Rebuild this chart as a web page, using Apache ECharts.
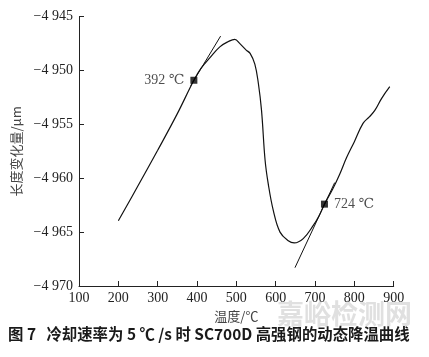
<!DOCTYPE html>
<html><head><meta charset="utf-8">
<script src="https://cdn.jsdelivr.net/npm/echarts@6/dist/echarts.min.js"></script>
<style>html,body{margin:0;padding:0;background:#fff}#c{width:429px;height:357px}</style>
</head><body><div id="c"></div>
<script>
const curveX = [200,250,300,350,392,410,433,458,480,496,509,525,535,547,556,564,573,581,594,611,632,647,670,696,710,724,745,763,780,800,822,838,852,869,890];
const curveY = [-4963.95,-4960.7,-4957.4,-4954.0,-4950.9,-4949.8,-4948.8,-4947.8,-4947.3,-4947.1,-4947.5,-4948.1,-4948.4,-4949.4,-4951.2,-4953.7,-4958.3,-4960.5,-4963.0,-4965.0,-4965.8,-4966.0,-4965.6,-4964.35,-4963.5,-4962.4,-4961.0,-4959.6,-4958.1,-4956.6,-4954.9,-4954.3,-4953.7,-4952.6,-4951.5];
const tangent1X = [384,460];
const tangent1Y = [-4951.4,-4946.8];
const tangent2X = [649,750];
const tangent2Y = [-4968.3,-4960.4];
const pointX = [392,724];
const pointY = [-4950.9,-4962.4];
const pointLabels = ['392 ℃','724 ℃'];
const xTicks = {min:100,max:900,step:100};
const yTicks = {min:-4970,max:-4945,step:5};
const xName = '温度/℃';
const yName = '长度变化量/μm';
const caption = '图 7   冷却速率为 5 ℃ /s 时 SC700D 高强钢的动态降温曲线';
const watermark = '嘉峪检测网';

const zip = (a,b)=>a.map((v,i)=>[v,b[i]]);
const fmtY = v => { const s = String(Math.abs(v)); return '\u2212' + s.slice(0,1) + ' ' + s.slice(1); };
const serif = '"Liberation Serif","DejaVu Serif",serif';
const chart = echarts.init(document.getElementById('c'));
chart.setOption({
  animation:false,
  grid:{left:79,right:35.3,top:16.7,bottom:71},
  xAxis:{type:'value',min:xTicks.min,max:xTicks.max,interval:xTicks.step,
    name:xName,nameLocation:'middle',nameGap:23,
    nameTextStyle:{fontFamily:'"Noto Sans CJK SC",sans-serif',fontSize:13,color:'#444'},
    axisLine:{lineStyle:{color:'#222',width:1}},
    axisTick:{inside:true,length:5,lineStyle:{color:'#222'}},
    axisLabel:{fontFamily:serif,fontSize:14,color:'#222',margin:5},
    splitLine:{show:false}},
  yAxis:{type:'value',min:yTicks.min,max:yTicks.max,interval:yTicks.step,
    name:yName,nameLocation:'middle',nameGap:52,nameRotate:90,
    nameTextStyle:{fontFamily:'"Noto Sans CJK SC",sans-serif',fontSize:13,color:'#444'},
    axisLine:{lineStyle:{color:'#222',width:1}},
    axisTick:{inside:true,length:5,lineStyle:{color:'#222'}},
    axisLabel:{fontFamily:serif,fontSize:14,color:'#222',margin:6,formatter:fmtY},
    splitLine:{show:false}},
  series:[
    {type:'line',data:zip(curveX,curveY),smooth:0.4,showSymbol:false,lineStyle:{color:'#111',width:1.2},z:2},
    {type:'line',data:zip(tangent1X,tangent1Y),showSymbol:false,lineStyle:{color:'#111',width:1},z:2},
    {type:'line',data:zip(tangent2X,tangent2Y),showSymbol:false,lineStyle:{color:'#111',width:1},z:2},
    {type:'scatter',data:zip(pointX,pointY).map((p,i)=>({value:p,label:{show:true,position:i===0?'left':'right',distance:6,formatter:pointLabels[i]}})),
      symbol:'rect',symbolSize:7,itemStyle:{color:'#000'},z:3,
      label:{fontFamily:serif,fontSize:14,color:'#222'}}
  ],
  graphic:[
    {type:'text',left:277,top:300,z:0,style:{text:watermark,font:'bold 27px "Noto Sans CJK SC",sans-serif',fill:'#e0e0e0'}},
    {type:'text',left:8,top:326,z:5,style:{text:caption,font:'bold 15.4px "Noto Sans CJK SC",serif',fill:'#1a1a1a'}}
  ]
});
</script></body></html>
